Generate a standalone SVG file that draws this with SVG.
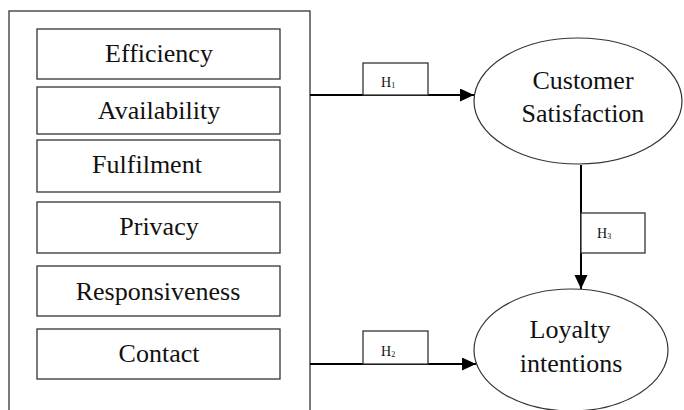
<svg xmlns="http://www.w3.org/2000/svg" width="684" height="410" viewBox="0 0 684 410">
<style>
.box{fill:#fff;stroke:#333;stroke-width:1.3}
.conn{fill:none;stroke:#000;stroke-width:2}
.ell{fill:#fff;stroke:#333;stroke-width:1.2}
</style>
<defs>
<marker id="arr" markerUnits="userSpaceOnUse" markerWidth="16" markerHeight="14" refX="14" refY="6.5" orient="auto">
<polygon points="0,0 14,6.5 0,13" fill="#000"/>
</marker>
</defs>
<rect width="684" height="410" fill="#fff"/>
<g id="dimensions">
<rect class="box" x="9" y="11" width="301" height="420"/>
</g>
<g id="efficiency"><rect class="box" x="37" y="29" width="243" height="50"/><text x="159" y="62" font-family="'Liberation Serif', serif" font-size="26" fill="#111" text-anchor="middle">Efficiency</text></g>
<g id="availability"><rect class="box" x="37" y="87" width="243" height="47"/><text x="159" y="119" font-family="'Liberation Serif', serif" font-size="26" fill="#111" text-anchor="middle">Availability</text></g>
<g id="fulfilment"><rect class="box" x="37" y="140" width="243" height="52"/><text x="147" y="173" font-family="'Liberation Serif', serif" font-size="26" fill="#111" text-anchor="middle">Fulfilment</text></g>
<g id="privacy"><rect class="box" x="37" y="202" width="243" height="51"/><text x="159" y="235" font-family="'Liberation Serif', serif" font-size="26" fill="#111" text-anchor="middle">Privacy</text></g>
<g id="responsiveness"><rect class="box" x="37" y="266" width="243" height="50"/><text x="158" y="300" font-family="'Liberation Serif', serif" font-size="26" fill="#111" text-anchor="middle">Responsiveness</text></g>
<g id="contact"><rect class="box" x="37" y="329" width="243" height="50"/><text x="159" y="362" font-family="'Liberation Serif', serif" font-size="26" fill="#111" text-anchor="middle">Contact</text></g>
<g id="connectors">
<line class="conn" x1="310" y1="95" x2="474" y2="95" marker-end="url(#arr)"/>
<line class="conn" x1="310" y1="364" x2="476" y2="364" marker-end="url(#arr)"/>
<line class="conn" x1="581" y1="165" x2="581" y2="289" marker-end="url(#arr)"/>
</g>
<g id="h1"><rect class="box" x="363" y="63" width="65" height="32"/><text x="381" y="87" font-family="'Liberation Serif', serif" font-size="14" fill="#111">H<tspan font-size="8" dy="1">1</tspan></text></g>
<g id="h2"><rect class="box" x="363" y="331" width="65" height="33"/><text x="381" y="356" font-family="'Liberation Serif', serif" font-size="14" fill="#111">H<tspan font-size="8" dy="1">2</tspan></text></g>
<g id="h3"><rect class="box" x="581" y="213" width="64" height="40"/><text x="597" y="238" font-family="'Liberation Serif', serif" font-size="14" fill="#111">H<tspan font-size="8" dy="1">3</tspan></text></g>
<g id="satisfaction"><ellipse class="ell" cx="578" cy="101" rx="104" ry="63"/><text x="583" y="89" font-family="'Liberation Serif', serif" font-size="26" fill="#111" text-anchor="middle">Customer</text><text x="583" y="122" font-family="'Liberation Serif', serif" font-size="26" fill="#111" text-anchor="middle">Satisfaction</text></g>
<g id="loyalty"><ellipse class="ell" cx="571" cy="350" rx="97" ry="61"/><text x="570" y="338" font-family="'Liberation Serif', serif" font-size="26" fill="#111" text-anchor="middle">Loyalty</text><text x="571" y="372" font-family="'Liberation Serif', serif" font-size="26" fill="#111" text-anchor="middle">intentions</text></g>
</svg>
